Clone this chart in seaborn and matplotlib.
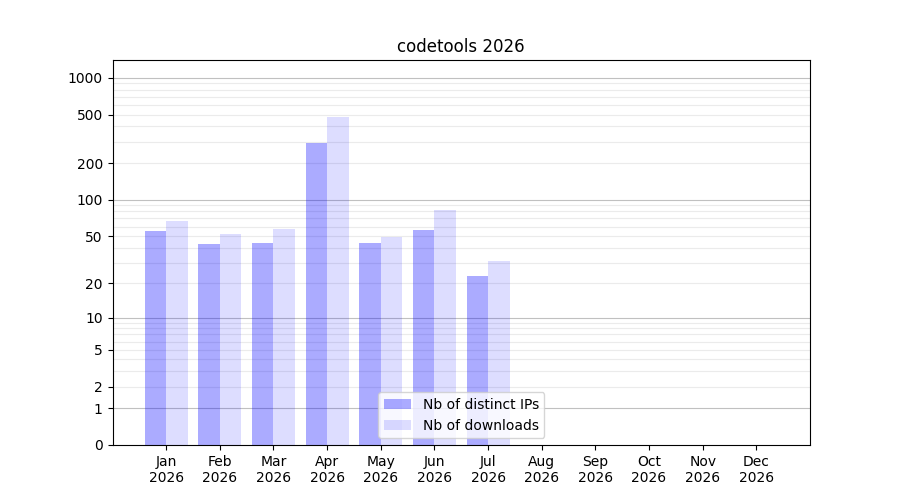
import numpy as np
import pandas as pd
import seaborn as sns
import matplotlib.pyplot as plt
from matplotlib.ticker import FixedLocator, NullFormatter

months = ['Jan', 'Feb', 'Mar', 'Apr', 'May', 'Jun', 'Jul', 'Aug', 'Sep', 'Oct', 'Nov', 'Dec']
year = '2026'
ips = [55, 43, 44, 294, 44, 56, 23, 0, 0, 0, 0, 0]
downloads = [67, 52, 57, 480, 49, 83, 31, 0, 0, 0, 0, 0]
y_ticks = [0, 1, 2, 5, 10, 20, 50, 100, 200, 500, 1000]
alphas = [0.33, 0.135]

df = pd.DataFrame({
    'month': months * 2,
    'value': ips + downloads,
    'kind': ['Nb of distinct IPs'] * 12 + ['Nb of downloads'] * 12,
})

fig, ax = plt.subplots(figsize=(9, 5), dpi=100)
sns.barplot(data=df, x='month', y='value', hue='kind',
            palette=['#0000ff', '#0000ff'], saturation=1, width=0.8,
            linewidth=0, edgecolor='none', ax=ax)

# transparent bars so the grid shows through
n = len(months)
for i, p in enumerate(ax.patches[:2 * n]):
    p.set_alpha(alphas[0] if i < n else alphas[1])
    p.set_antialiased(False)

ax.set_yscale('function', functions=(lambda v: np.log10(np.maximum(v, 0) + 1),
                                     lambda v: 10 ** v - 1))
ax.set_ylim(0, 1400)
ax.set_xlim(-1, 12)

ax.yaxis.set_major_locator(FixedLocator(y_ticks))
ax.set_yticklabels([str(t) for t in y_ticks])
minor = [m * 10 ** e for e in range(0, 4) for m in range(2, 10)]
ax.yaxis.set_minor_locator(FixedLocator(minor))
ax.yaxis.set_minor_formatter(NullFormatter())
ax.tick_params(axis='y', which='minor', length=0)

for v in [1, 10, 100, 1000]:
    ax.axhline(v, color='#c0c0c0', lw=0.8, zorder=0.5)
for v in minor:
    ax.axhline(v, color='#ebebeb', lw=0.8, zorder=0.5)

ax.set_xticks(range(12))
ax.set_xticklabels([f'{m}\n{year}' for m in months])
ax.set_xlabel('')
ax.set_ylabel('')
ax.set_title('codetools 2026')
leg = ax.legend(loc='lower center', title=None)
for h, a in zip(leg.legend_handles, alphas):
    h.set_alpha(a)

fig.savefig('out.png')
